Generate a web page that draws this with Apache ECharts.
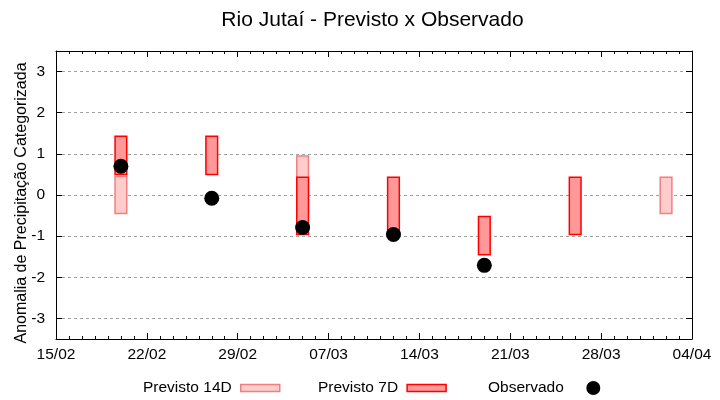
<!DOCTYPE html>
<html>
<head>
<meta charset="utf-8">
<script src="https://cdn.jsdelivr.net/npm/echarts@6/dist/echarts.min.js"></script>
<style>html,body{margin:0;padding:0;background:#fff;}#c{width:720px;height:400px;}</style>
</head>
<body>
<div id="c"></div>
<script>
// ---- data ----
var startDate = '2024-02-15';
var xTickLabels = ['15/02','22/02','29/02','07/03','14/03','21/03','28/03','04/04'];
var dates = ['2024-02-20','2024-02-27','2024-03-05','2024-03-12','2024-03-19','2024-03-26','2024-04-02'];
var prev14Low  = [-0.45, null, -0.45, null, null, null, -0.45];
var prev14High = [ 0.45, null,  0.95, null, null, null,  0.43];
var prev7Low   = [ 0.50, 0.50, -0.96, -0.96, -1.45, -0.96, null];
var prev7High  = [ 1.43, 1.43,  0.43,  0.43, -0.52,  0.43, null];
var observed   = [ 0.70, -0.08, -0.79, -0.96, -1.71, null, null];

var FONT = 'Liberation Sans';
function dayIndex(d){ return Math.round((Date.parse(d) - Date.parse(startDate)) / 86400000); }

function rangeData(lo, hi){
  var out = [];
  for (var i = 0; i < dates.length; i++) {
    if (lo[i] != null && hi[i] != null) out.push([dayIndex(dates[i]), lo[i], hi[i]]);
  }
  return out;
}
var obsData = [];
for (var i = 0; i < dates.length; i++) if (observed[i] != null) obsData.push([dayIndex(dates[i]), observed[i]]);

function makeRender(fill, stroke){
  return function(params, api){
    var x = api.value(0), lo = api.value(1), hi = api.value(2);
    var p1 = api.coord([x, hi]), p2 = api.coord([x, lo]);
    var w = api.size([1, 0])[0] * 0.9;
    return {type:'rect', shape:{x:p1[0]-w/2, y:p1[1], width:w, height:p2[1]-p1[1]},
            style:{fill:fill, stroke:stroke, lineWidth:1.5}};
  };
}

var c14 = {fill:'#ffcccc', stroke:'#f08080'};
var c7 = {fill:'#ff9999', stroke:'#ff0000'};

var chart = echarts.init(document.getElementById('c'), null, {renderer:'canvas'});
var axisBase = {
  axisLine:{show:true, onZero:false, lineStyle:{color:'#000', width:1}},
  axisTick:{show:true, inside:true, length:6, lineStyle:{color:'#000'}}
};
var legendText = {fontFamily:FONT, fontSize:15.5, color:'#000', padding:[0,4,0,0]};
chart.setOption({
  animation:false,
  backgroundColor:'#fff',
  title:{text:'Rio Jutaí - Previsto x Observado', left:372.5, top:10, padding:0, textAlign:'center',
    textStyle:{fontFamily:FONT, fontSize:21, fontWeight:'normal', color:'#000'}},
  grid:{left:56, right:28, top:51, bottom:61, containLabel:false, outerBoundsMode:'none'},
  legend:[
    {left:143, top:380, padding:0, align:'right', itemWidth:39, itemHeight:7, itemGap:0, textStyle:legendText,
     data:[{name:'Previsto 14D', icon:'rect', itemStyle:{color:c14.fill, borderColor:c14.stroke, borderWidth:1.5}}]},
    {left:318, top:380, padding:0, align:'right', itemWidth:39, itemHeight:7, itemGap:0, textStyle:legendText,
     data:[{name:'Previsto 7D', icon:'rect', itemStyle:{color:c7.fill, borderColor:c7.stroke, borderWidth:1.5}}]},
    {left:488, top:380, padding:0, align:'right', itemWidth:39, itemHeight:14, itemGap:0,
     textStyle:{fontFamily:FONT, fontSize:15.5, color:'#000', padding:[0,5,0,0]},
     data:[{name:'Observado', icon:'circle', itemStyle:{color:'#000', opacity:1}}]}
  ],
  xAxis:[
    Object.assign({type:'value', position:'bottom', min:0, max:49, interval:7,
      axisLabel:{fontFamily:FONT, fontSize:15.5, color:'#000', margin:8,
        formatter:function(v){ return xTickLabels[Math.round(v/7)] || ''; }},
      minorTick:{show:true, splitNumber:7, length:3, lineStyle:{color:'#000'}},
      splitLine:{show:false}}, axisBase),
    Object.assign({type:'value', position:'top', min:0, max:49, interval:7,
      axisLabel:{show:false},
      minorTick:{show:true, splitNumber:7, length:3, lineStyle:{color:'#000'}},
      splitLine:{show:false}}, axisBase)
  ],
  yAxis:[
    Object.assign({type:'value', position:'left', min:-3.5, max:3.5, splitNumber:7,
      name:'Anomalia de Precipitação Categorizada', nameLocation:'middle', nameGap:26, nameRotate:90,
      nameMoveOverlap:false,
      nameTextStyle:{fontFamily:FONT, fontSize:16, color:'#000', padding:[0,16,0,0]},
      axisLabel:{fontFamily:FONT, fontSize:15.5, color:'#000', margin:11, showMinLabel:false, showMaxLabel:false,
        formatter:function(v){ return Math.abs(v - Math.round(v)) < 1e-6 ? String(v) : ''; }},
      splitLine:{show:true, lineStyle:{color:'#a0a0a0', type:[3,3], width:1}}}, axisBase),
    Object.assign({type:'value', position:'right', min:-3.5, max:3.5, splitNumber:7,
      axisLabel:{show:false}, splitLine:{show:false}}, axisBase)
  ],
  series:[
    {name:'Previsto 14D', type:'custom', renderItem:makeRender(c14.fill, c14.stroke),
     itemStyle:{color:c14.fill, borderColor:c14.stroke}, encode:{x:0, y:[1,2]}, data:rangeData(prev14Low, prev14High), z:2},
    {name:'Previsto 7D', type:'custom', renderItem:makeRender(c7.fill, c7.stroke),
     itemStyle:{color:c7.fill, borderColor:c7.stroke}, encode:{x:0, y:[1,2]}, data:rangeData(prev7Low, prev7High), z:3},
    {name:'Observado', type:'scatter', symbol:'circle', symbolSize:15, itemStyle:{color:'#000', opacity:1},
     data:obsData, z:4}
  ]
});
</script>
</body>
</html>
